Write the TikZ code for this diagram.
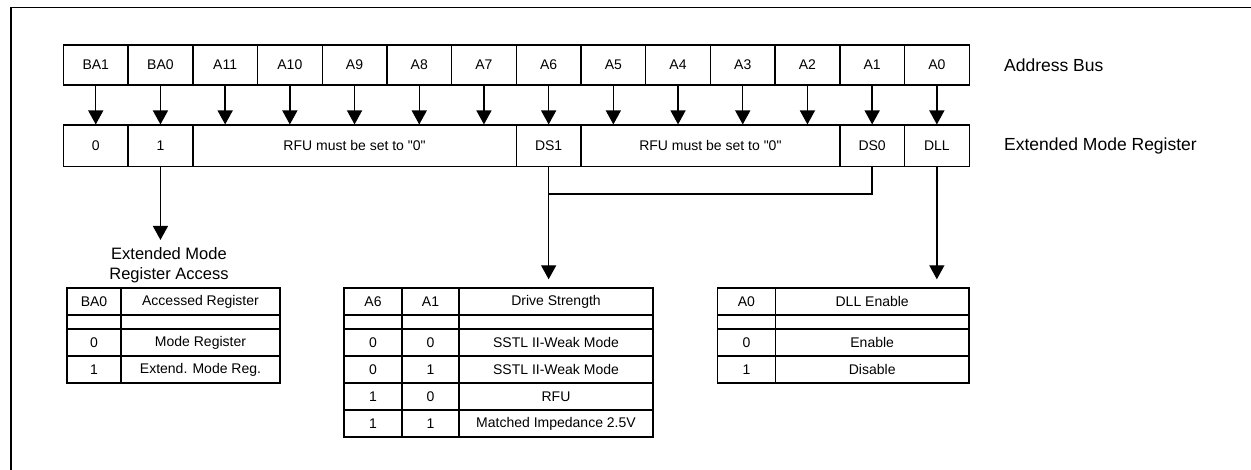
\documentclass[tikz,border=0pt]{standalone}
\usepackage{fontspec}
\setmainfont{Liberation Sans}
\usetikzlibrary{arrows.meta}

\begin{document}
\begin{tikzpicture}[x=1pt,y=-1pt]
	\tikzstyle{reg}=[draw,line width=1.4pt,minimum width=64.7pt,minimum height=40pt,inner sep=0pt,font=\fontsize{14}{16}\selectfont]
	\tikzstyle{bit}=[reg,minimum height=41.5pt]
	\tikzstyle{cell}=[draw,line width=1.4pt,minimum height=27pt,inner sep=0pt,font=\fontsize{14}{16}\selectfont]
	\tikzstyle{gap}=[cell,minimum height=14pt]
	\tikzstyle{side}=[anchor=west,inner sep=0pt,font=\fontsize{17.5}{20}\selectfont]
	\tikzstyle{wire}=[draw,line width=1.4pt]
	\tikzstyle{busarrow}=[wire,-{Triangle[width=15pt,length=14pt]}]

	\useasboundingbox (0,0) rectangle (1251,470);
	\draw[wire] (11,470) -- (11,7.3) -- (1251,7.3);

	% address bus
	\node[reg] (ba1) at (95.75,65) {BA1};
	\node[reg] (ba0) at (160.45,65) {BA0};
	\node[reg] (a11) at (225.15,65) {A11};
	\node[reg] (a10) at (289.85,65) {A10};
	\node[reg] (a9) at (354.55,65) {A9};
	\node[reg] (a8) at (419.25,65) {A8};
	\node[reg] (a7) at (483.95,65) {A7};
	\node[reg] (a6) at (548.65,65) {A6};
	\node[reg] (a5) at (613.35,65) {A5};
	\node[reg] (a4) at (678.05,65) {A4};
	\node[reg] (a3) at (742.75,65) {A3};
	\node[reg] (a2) at (807.45,65) {A2};
	\node[reg] (a1) at (872.15,65) {A1};
	\node[reg] (a0) at (936.85,65) {A0};
	\node[side] (bus) at (1004,65) {Address Bus};

	% extended mode register
	\node[bit] (b0) at (95.75,145.9) {0};
	\node[bit] (b1) at (160.45,145.9) {1};
	\node[bit,minimum width=323.5pt] (rfuhi) at (354.55,145.9) {RFU must be set to \textquotedbl0\textquotedbl};
	\node[bit] (ds1) at (548.65,145.9) {DS1};
	\node[bit,minimum width=258.8pt] (rfulo) at (710.4,145.9) {RFU must be set to \textquotedbl0\textquotedbl};
	\node[bit] (ds0) at (872.15,145.9) {DS0};
	\node[bit] (dll) at (936.85,145.9) {DLL};
	\node[side] (emr) at (1004,146) {Extended Mode Register};

	\draw[busarrow] (ba1) -- (b0);
	\draw[busarrow] (ba0) -- (b1);
	\draw[busarrow] (a11.south) -- (a11.south |- rfuhi.north);
	\draw[busarrow] (a10.south) -- (a10.south |- rfuhi.north);
	\draw[busarrow] (a9.south) -- (a9.south |- rfuhi.north);
	\draw[busarrow] (a8.south) -- (a8.south |- rfuhi.north);
	\draw[busarrow] (a7.south) -- (a7.south |- rfuhi.north);
	\draw[busarrow] (a6) -- (ds1);
	\draw[busarrow] (a5.south) -- (a5.south |- rfulo.north);
	\draw[busarrow] (a4.south) -- (a4.south |- rfulo.north);
	\draw[busarrow] (a3.south) -- (a3.south |- rfulo.north);
	\draw[busarrow] (a2.south) -- (a2.south |- rfulo.north);
	\draw[busarrow] (a1) -- (ds0);
	\draw[busarrow] (a0) -- (dll);

	% BA0 table
	\node[align=center,inner sep=0pt,font=\fontsize{16.5}{20.3}\selectfont] (acc) at (169,265) {Extended Mode\\Register Access};
	\node[cell,minimum width=54pt] (acc1) at (94,301.5) {BA0};
	\node[cell,minimum width=159pt] (acc2) at (200.5,301.5) {Accessed Register};
	\node[gap,minimum width=54pt] (acc3) at (94,322) {};
	\node[gap,minimum width=159pt] (acc4) at (200.5,322) {};
	\node[cell,minimum width=54pt] (acc5) at (94,342.5) {0};
	\node[cell,minimum width=159pt] (acc6) at (200.5,342.5) {Mode Register};
	\node[cell,minimum width=54pt] (acc7) at (94,369.5) {1};
	\node[cell,minimum width=159pt] (acc8) at (200.5,369.5) {Extend. Mode Reg.};
	\draw[busarrow,shorten >=7pt] (b1.south) -- (b1.south |- acc.north);

	% drive strength table
	\node[cell,minimum width=58pt] (drv1) at (373,301.5) {A6};
	\node[cell,minimum width=57pt] (drv2) at (430.5,301.5) {A1};
	\node[cell,minimum width=194pt] (drv3) at (556,301.5) {Drive Strength};
	\node[gap,minimum width=58pt] (drv4) at (373,322) {};
	\node[gap,minimum width=57pt] (drv5) at (430.5,322) {};
	\node[gap,minimum width=194pt] (drv6) at (556,322) {};
	\node[cell,minimum width=58pt] (drv7) at (373,342.5) {0};
	\node[cell,minimum width=57pt] (drv8) at (430.5,342.5) {0};
	\node[cell,minimum width=194pt] (drv9) at (556,342.5) {SSTL II-Weak Mode};
	\node[cell,minimum width=58pt] (drv10) at (373,369.5) {0};
	\node[cell,minimum width=57pt] (drv11) at (430.5,369.5) {1};
	\node[cell,minimum width=194pt] (drv12) at (556,369.5) {SSTL II-Weak Mode};
	\node[cell,minimum width=58pt] (drv13) at (373,396.5) {1};
	\node[cell,minimum width=57pt] (drv14) at (430.5,396.5) {0};
	\node[cell,minimum width=194pt] (drv15) at (556,396.5) {RFU};
	\node[cell,minimum width=58pt] (drv16) at (373,423.5) {1};
	\node[cell,minimum width=57pt] (drv17) at (430.5,423.5) {1};
	\node[cell,minimum width=194pt] (drv18) at (556,423.5) {Matched Impedance 2.5V};
	\coordinate (join) at (0,194);
	\draw[wire] (ds0.south) |- (ds1.south |- join);
	\draw[busarrow,shorten >=8pt] (ds1.south) -- (ds1.south |- drv3.north);

	% DLL table
	\node[cell,minimum width=57.8pt] (ena1) at (746.4,301.5) {A0};
	\node[cell,minimum width=193.7pt] (ena2) at (872.2,301.5) {DLL Enable};
	\node[gap,minimum width=57.8pt] (ena3) at (746.4,322) {};
	\node[gap,minimum width=193.7pt] (ena4) at (872.2,322) {};
	\node[cell,minimum width=57.8pt] (ena5) at (746.4,342.5) {0};
	\node[cell,minimum width=193.7pt] (ena6) at (872.2,342.5) {Enable};
	\node[cell,minimum width=57.8pt] (ena7) at (746.4,369.5) {1};
	\node[cell,minimum width=193.7pt] (ena8) at (872.2,369.5) {Disable};
	\draw[busarrow,shorten >=8pt] (dll.south) -- (dll.south |- ena2.north);
 \end{tikzpicture}
\end{document}
